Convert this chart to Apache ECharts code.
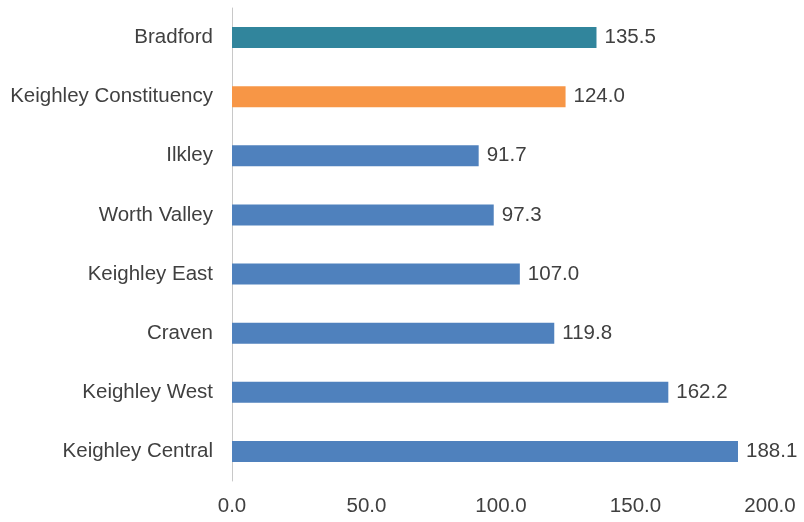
<!DOCTYPE html>
<html>
<head>
<meta charset="utf-8">
<script src="https://cdn.jsdelivr.net/npm/echarts@6/dist/echarts.min.js"></script>
<style>
  html, body { margin: 0; padding: 0; background: #fff; }
  #chart { width: 804px; height: 522px; }
</style>
</head>
<body>
<div id="chart"></div>
<script>
// categories listed bottom-to-top (ECharts category y axis starts at the bottom)
const categories = ['Keighley Central', 'Keighley West', 'Craven', 'Keighley East', 'Worth Valley', 'Ilkley', 'Keighley Constituency', 'Bradford'];
const values = [188.1, 162.2, 119.8, 107.0, 97.3, 91.7, 124.0, 135.5];
const barColors = ['#4F81BD', '#4F81BD', '#4F81BD', '#4F81BD', '#4F81BD', '#4F81BD', '#F79646', '#31859C'];

const chart = echarts.init(document.getElementById('chart'));

const textColor = '#404040';
const font = 'Liberation Sans, Arial, sans-serif';

chart.setOption({
  animation: false,
  grid: { left: 232, right: 34, top: 8, bottom: 41 },
  xAxis: {
    type: 'value',
    min: 0,
    max: 200,
    interval: 50,
    axisLine: { show: false },
    axisTick: { show: false },
    splitLine: { show: false },
    axisLabel: {
      color: textColor,
      fontSize: 20.5,
      fontFamily: font,
      margin: 15,
      formatter: (v) => v.toFixed(1)
    }
  },
  yAxis: {
    type: 'category',
    data: categories,
    axisLine: { show: true, lineStyle: { color: '#C8C8C8', width: 1 } },
    axisTick: { show: false },
    axisLabel: {
      color: textColor,
      fontSize: 20.5,
      fontFamily: font,
      margin: 19
    }
  },
  series: [{
    type: 'bar',
    data: values.map((v, i) => ({ value: v, itemStyle: { color: barColors[i] } })),
    barWidth: 21,
    label: {
      show: true,
      position: 'right',
      distance: 8,
      color: textColor,
      fontSize: 20.5,
      fontFamily: font,
      formatter: (p) => p.value.toFixed(1)
    }
  }]
});
</script>
</body>
</html>
